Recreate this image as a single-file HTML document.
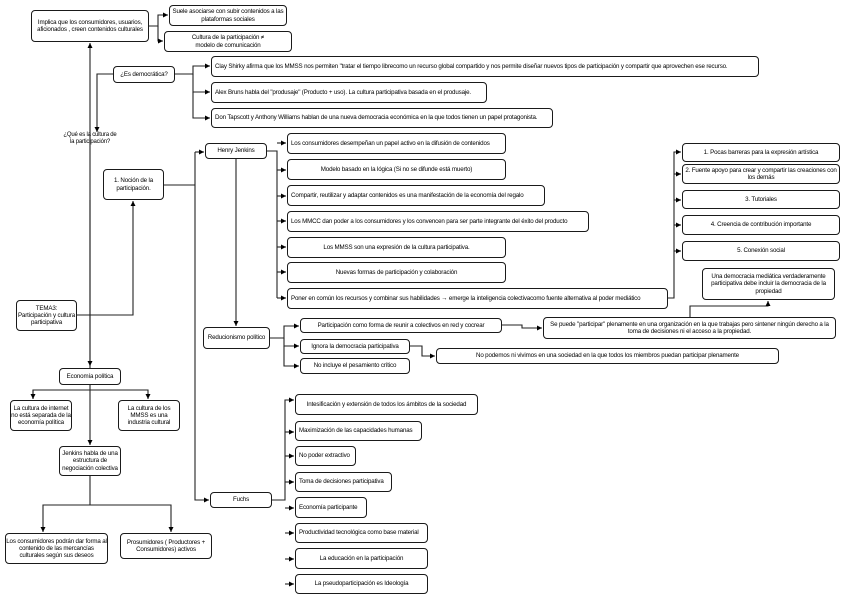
<!DOCTYPE html>
<html><head><meta charset="utf-8"><style>
body{margin:0;width:848px;height:600px;background:#fff;position:relative;overflow:hidden;font-family:"Liberation Sans",sans-serif}
.b{position:absolute;box-sizing:border-box;border:1px solid #1a1a1a;border-radius:4px;background:#fff;font-size:6.2px;line-height:7.2px;color:#000;display:flex;align-items:center;justify-content:center;text-align:center;letter-spacing:-0.15px;white-space:nowrap}
.l{justify-content:flex-start;padding-left:3px}
.w{white-space:normal}
svg{position:absolute;left:0;top:0}
.t{position:absolute;font-size:6px;line-height:7px;text-align:center;letter-spacing:-0.2px}
</style></head><body>
<svg width="848" height="600">
<defs><marker id="a" markerWidth="6" markerHeight="6" refX="5" refY="3" orient="auto" markerUnits="userSpaceOnUse"><path d="M0,0.5 L5,3 L0,5.5z" fill="#000"/></marker></defs>
<g stroke="#222" stroke-width="1.1" fill="none">
<path d="M90,368 V43" marker-end="url(#a)"/>
<path d="M90,200 V366" marker-end="url(#a)"/>
<path d="M149,26 H158 V15 H168" marker-end="url(#a)"/>
<path d="M158,26 V41 H163" marker-end="url(#a)"/>
<path d="M113,74 H97 V132" marker-end="url(#a)"/>
<path d="M175,74 H193 V66 H210" marker-end="url(#a)"/>
<path d="M193,74 V92 H210" marker-end="url(#a)"/>
<path d="M193,92 V118 H210" marker-end="url(#a)"/>
<path d="M77,315 H133 V201" marker-end="url(#a)"/>
<path d="M164,185 H195"/>
<path d="M195,152 H204" marker-end="url(#a)"/>
<path d="M195,152 V500 H209" marker-end="url(#a)"/>
<path d="M236,159 V326" marker-end="url(#a)"/>
<path d="M267,151 H277 V298"/>
<path d="M277,143 H286" marker-end="url(#a)"/>
<path d="M277,170 H286" marker-end="url(#a)"/>
<path d="M277,196 H286" marker-end="url(#a)"/>
<path d="M277,221 H286" marker-end="url(#a)"/>
<path d="M277,247 H286" marker-end="url(#a)"/>
<path d="M277,272 H286" marker-end="url(#a)"/>
<path d="M277,298 H286" marker-end="url(#a)"/>
<path d="M668,298 H674 V152 H681" marker-end="url(#a)"/>
<path d="M674,174 H681" marker-end="url(#a)"/>
<path d="M674,200 H681" marker-end="url(#a)"/>
<path d="M674,225 H681" marker-end="url(#a)"/>
<path d="M674,251 H681" marker-end="url(#a)"/>
<path d="M270,338 H284 V326 H299" marker-end="url(#a)"/>
<path d="M284,338 V346 H299" marker-end="url(#a)"/>
<path d="M284,346 V366 H299" marker-end="url(#a)"/>
<path d="M502,325 H522 V328 H542" marker-end="url(#a)"/>
<path d="M410,346 H422 V356 H435" marker-end="url(#a)"/>
<path d="M690,317 V306 H768 V301" marker-end="url(#a)"/>
<path d="M272,500 H285 V400 H294" marker-end="url(#a)"/>
<path d="M285,432 H294" marker-end="url(#a)"/>
<path d="M285,456 H294" marker-end="url(#a)"/>
<path d="M285,482 H294" marker-end="url(#a)"/>
<path d="M285,508 H294" marker-end="url(#a)"/>
<path d="M285,533 H294" marker-end="url(#a)"/>
<path d="M285,559 H294" marker-end="url(#a)"/>
<path d="M285,584 H294" marker-end="url(#a)"/>
<path d="M90,384 V445" marker-end="url(#a)"/>
<path d="M33,399 V390 H148 V399" marker-end="url(#a)"/>
<path d="M33,390 V399" marker-end="url(#a)"/>
<path d="M90,476 V505 H43 V532" marker-end="url(#a)"/>
<path d="M90,505 H171 V532" marker-end="url(#a)"/>
</g></svg>

<div class="b w" style="left:31px;top:10px;width:118px;height:32px">Implica que los consumidores, usuarios, aficionados , creen contenidos culturales</div>
<div class="b w" style="left:169px;top:5px;width:118px;height:21px">Suele asociarse con subir contenidos a las plataformas sociales</div>
<div class="b w" style="left:164px;top:31px;width:128px;height:21px">Cultura de la participación ≠<br>modelo de comunicación</div>
<div class="b" style="left:113px;top:66px;width:62px;height:17px">¿Es democrática?</div>
<div class="b l" style="left:211px;top:56px;width:548px;height:21px">Clay Shirky afirma que los MMSS nos permiten "tratar el tiempo librecomo un recurso global compartido y nos permite diseñar nuevos tipos de participación y compartir que aprovechen ese recurso.</div>
<div class="b l" style="left:211px;top:82px;width:276px;height:21px">Alex Bruns habla del "produsaje" (Producto + uso). La cultura participativa basada en el produsaje.</div>
<div class="b l" style="left:211px;top:108px;width:342px;height:20px">Don Tapscott y Anthony Williams hablan de una nueva democracia económica en la que todos tienen un papel protagonista.</div>
<div class="t" style="left:55px;top:132px;width:70px">¿Qué es la cultura de<br>la participación?</div>
<div class="b" style="left:205px;top:143px;width:62px;height:16px">Henry Jenkins</div>
<div class="b w" style="left:103px;top:169px;width:61px;height:31px">1. Noción de la<br>participación.</div>
<div class="b l" style="left:287px;top:133px;width:219px;height:21px">Los consumidores desempeñan un papel activo en la difusión de contenidos</div>
<div class="b" style="left:287px;top:159px;width:219px;height:21px">Modelo basado en la lógica (Si no se difunde está muerto)</div>
<div class="b l" style="left:287px;top:185px;width:258px;height:21px">Compartir, reutilizar y adaptar contenidos es una manifestación de la economía del regalo</div>
<div class="b l" style="left:287px;top:211px;width:302px;height:21px">Los MMCC dan poder a los consumidores y los convencen para ser parte integrante del éxito del producto</div>
<div class="b" style="left:287px;top:237px;width:219px;height:21px">Los MMSS son una expresión de la cultura participativa.</div>
<div class="b" style="left:287px;top:262px;width:219px;height:21px">Nuevas formas de participación y colaboración</div>
<div class="b l" style="left:287px;top:288px;width:381px;height:21px">Poner en común los recursos y combinar sus habilidades → emerge la inteligencia colectivacomo fuente alternativa al poder mediático</div>
<div class="b" style="left:682px;top:143px;width:158px;height:19px">1. Pocas barreras para la expresión artística</div>
<div class="b w" style="left:682px;top:164px;width:158px;height:20px">2. Fuente apoyo para crear y compartir las creaciones con los demás</div>
<div class="b" style="left:682px;top:190px;width:158px;height:19px">3. Tutoriales</div>
<div class="b" style="left:682px;top:215px;width:158px;height:20px">4. Creencia de contribución importante</div>
<div class="b" style="left:682px;top:241px;width:158px;height:20px">5. Conexión social</div>
<div class="b w" style="left:702px;top:268px;width:133px;height:32px">Una democracia mediática verdaderamente participativa debe incluir la democracia de la propiedad</div>
<div class="b w" style="left:543px;top:317px;width:293px;height:22px">Se puede "participar" plenamente en una organización en la que trabajas pero sintener ningún derecho a la toma de decisiones ni el acceso a la propiedad.</div>
<div class="b w" style="left:16px;top:300px;width:61px;height:31px">TEMA3:<br>Participación y cultura participativa</div>
<div class="b" style="left:203px;top:327px;width:67px;height:22px">Reducionismo político</div>
<div class="b" style="left:300px;top:318px;width:202px;height:15px">Participación como forma de reunir a colectivos en red y cocrear</div>
<div class="b" style="left:300px;top:339px;width:110px;height:15px">Ignora la democracia participativa</div>
<div class="b" style="left:300px;top:358px;width:110px;height:16px">No incluye el pesamiento crítico</div>
<div class="b" style="left:436px;top:348px;width:343px;height:16px">No podemos ni vivimos en una sociedad en la que todos los miembros puedan participar plenamente</div>
<div class="b" style="left:59px;top:368px;width:62px;height:17px">Economía política</div>
<div class="b w" style="left:10px;top:400px;width:62px;height:31px">La cultura de internet no está separada de la economía política</div>
<div class="b w" style="left:118px;top:400px;width:62px;height:31px">La cultura de los MMSS es una industria cultural</div>
<div class="b w" style="left:59px;top:446px;width:62px;height:30px">Jenkins habla de una estructura de negociación colectiva</div>
<div class="b w" style="left:5px;top:533px;width:103px;height:31px">Los consumidores podrán dar forma al contenido de las mercancías culturales según sus deseos</div>
<div class="b w" style="left:120px;top:533px;width:92px;height:26px">Prosumidores ( Productores + Consumidores) activos</div>
<div class="b" style="left:210px;top:492px;width:62px;height:16px">Fuchs</div>
<div class="b" style="left:295px;top:394px;width:183px;height:21px">Intesificación y extensión de todos los ámbitos de la sociedad</div>
<div class="b l" style="left:295px;top:421px;width:127px;height:20px">Maximización de las capacidades humanas</div>
<div class="b l" style="left:295px;top:446px;width:61px;height:20px">No poder extractivo</div>
<div class="b l" style="left:295px;top:472px;width:97px;height:20px">Toma de decisiones participativa</div>
<div class="b l" style="left:295px;top:497px;width:72px;height:21px">Economía participante</div>
<div class="b l" style="left:295px;top:523px;width:133px;height:20px">Productividad tecnológica como base material</div>
<div class="b" style="left:295px;top:548px;width:133px;height:21px">La educación en la participación</div>
<div class="b" style="left:295px;top:574px;width:133px;height:20px">La pseudoparticipación es Ideología</div>
</body></html>
